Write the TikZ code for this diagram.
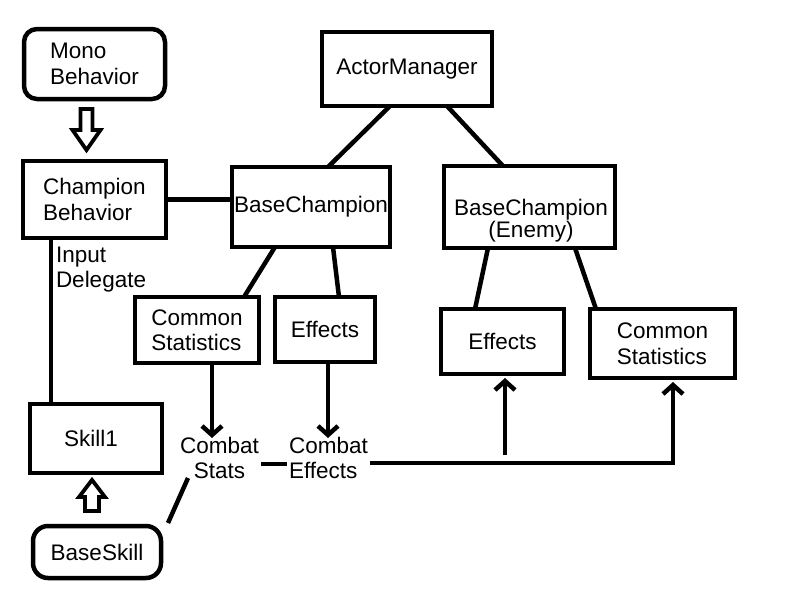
\documentclass[tikz,border=0pt]{standalone}
\usepackage{fontspec}
\setmainfont{Liberation Sans}
\usetikzlibrary{arrows.meta,calc}
\begin{document}
\begin{tikzpicture}[x=1pt,y=-1pt,line width=4.5pt,
  txt/.style={font=\fontsize{22.5}{25.5}\selectfont},
  box/.style={txt,draw,rectangle,inner sep=0pt,outer sep=0pt,align=left},
  cbox/.style={txt,draw,rectangle,inner sep=0pt,outer sep=0pt,align=center},
  lbl/.style={txt,inner sep=2pt,outer sep=0pt},
  arr/.style={-{Straight Barb[length=9pt,width=20pt]}},
  hollow/.style={line width=3.8pt,line join=miter}]
\useasboundingbox[fill=white] (0,0) rectangle (785,603);
% boxes
\node[box,rounded corners=13pt,minimum width=141pt,minimum height=70pt] (mono) at (94.5,64) {Mono\\Behavior};
\node[box,minimum width=143pt,minimum height=77pt] (champ) at (94.5,199.5) {Champion\\Behavior};
\node[cbox,minimum width=158pt,minimum height=80pt] (base) at (311,207) {BaseChampion};
\node[cbox,minimum width=170pt,minimum height=74pt] (actor) at (407,69) {ActorManager};
\node[cbox,minimum width=171pt,minimum height=82pt] (enemy) at (529.5,207) {};
\node[lbl,inner sep=0pt,align=center,font=\fontsize{22.5}{22}\selectfont] (enemyt) at (531,221) {BaseChampion\\(Enemy)};
\node[cbox,minimum width=123pt,minimum height=65pt] (effE) at (502.5,341.5) {Effects};
\node[box,minimum width=145pt,minimum height=69pt] (csE) at (662.5,343.5) {Common\\Statistics};
\node[box,minimum width=124pt,minimum height=66pt] (csL) at (197,330) {Common\\Statistics};
\node[cbox,minimum width=100pt,minimum height=65pt] (effL) at (325,329.5) {Effects};
\node[cbox,minimum width=132pt,minimum height=69pt] (skill) at (96,438.5) {\hspace*{-10pt}Skill1};
\node[cbox,rounded corners=15pt,minimum width=128pt,minimum height=52pt] (bskill) at (97,552) {BaseSkill};
% labels
\node[lbl,align=center] (cstats) at (219.5,458) {Combat\\Stats};
\node[lbl,align=left] (ceff) at (328.5,458) {Combat\\Effects};
\node[lbl,align=left,anchor=north west,inner sep=0pt] (inp) at (56,247) {Input\\Delegate};
% tree connectors
\draw (champ.east) -- (champ.east -| base.west);
\draw ([xshift=-17pt]actor.south) -- ([xshift=17pt]base.north);
\draw ([xshift=40pt]actor.south) -- ([xshift=-26.5pt]enemy.north);
\draw ([xshift=-41.5pt]enemy.south) -- ([xshift=-27.5pt]effE.north);
\draw ([xshift=45.5pt]enemy.south) -- ([xshift=-66.5pt]csE.north);
\draw ([xshift=-36pt]base.south) -- ([xshift=47pt]csL.north);
\draw ([xshift=22pt]base.south) -- ([xshift=14pt]effL.north);
\draw ([xshift=-43.5pt]champ.south) -- ([xshift=-43.5pt]champ.south |- skill.north);
% down arrows
\coordinate (csLb) at ([xshift=15pt]csL.south);
\coordinate (effLb) at ([xshift=3pt]effL.south);
\draw[arr] (csLb) -- ([yshift=-3pt]csLb |- cstats.north);
\draw[arr] (effLb) -- ([yshift=-3pt]effLb |- ceff.north);
% combat links
\draw ([yshift=-6pt]cstats.east) -- ([yshift=-6pt]cstats.east -| ceff.west);
\coordinate (csEb) at ([xshift=10.5pt,yshift=-4pt]csE.south);
\draw[arr] ([yshift=-5pt]ceff.east) -| (csEb);
\coordinate (j) at (505,455);
\coordinate (effEb) at ([yshift=-4pt]effE.south);
\draw[arr] (j) -- (j |- effEb);
\coordinate (s1) at (188,478);
\coordinate (s2) at (168,523);
\draw (s1) -- (s2);
% hollow arrows
\draw[hollow] (80.5,109) -- (92.5,109) -- (92.5,130) -- (100.5,130) -- (86.5,150) -- (72.5,130) -- (80.5,130) -- cycle;
\draw[hollow] (85,511) -- (99,511) -- (99,497) -- (105,497) -- (92,480) -- (79,497) -- (85,497) -- cycle;
\end{tikzpicture}
\end{document}
